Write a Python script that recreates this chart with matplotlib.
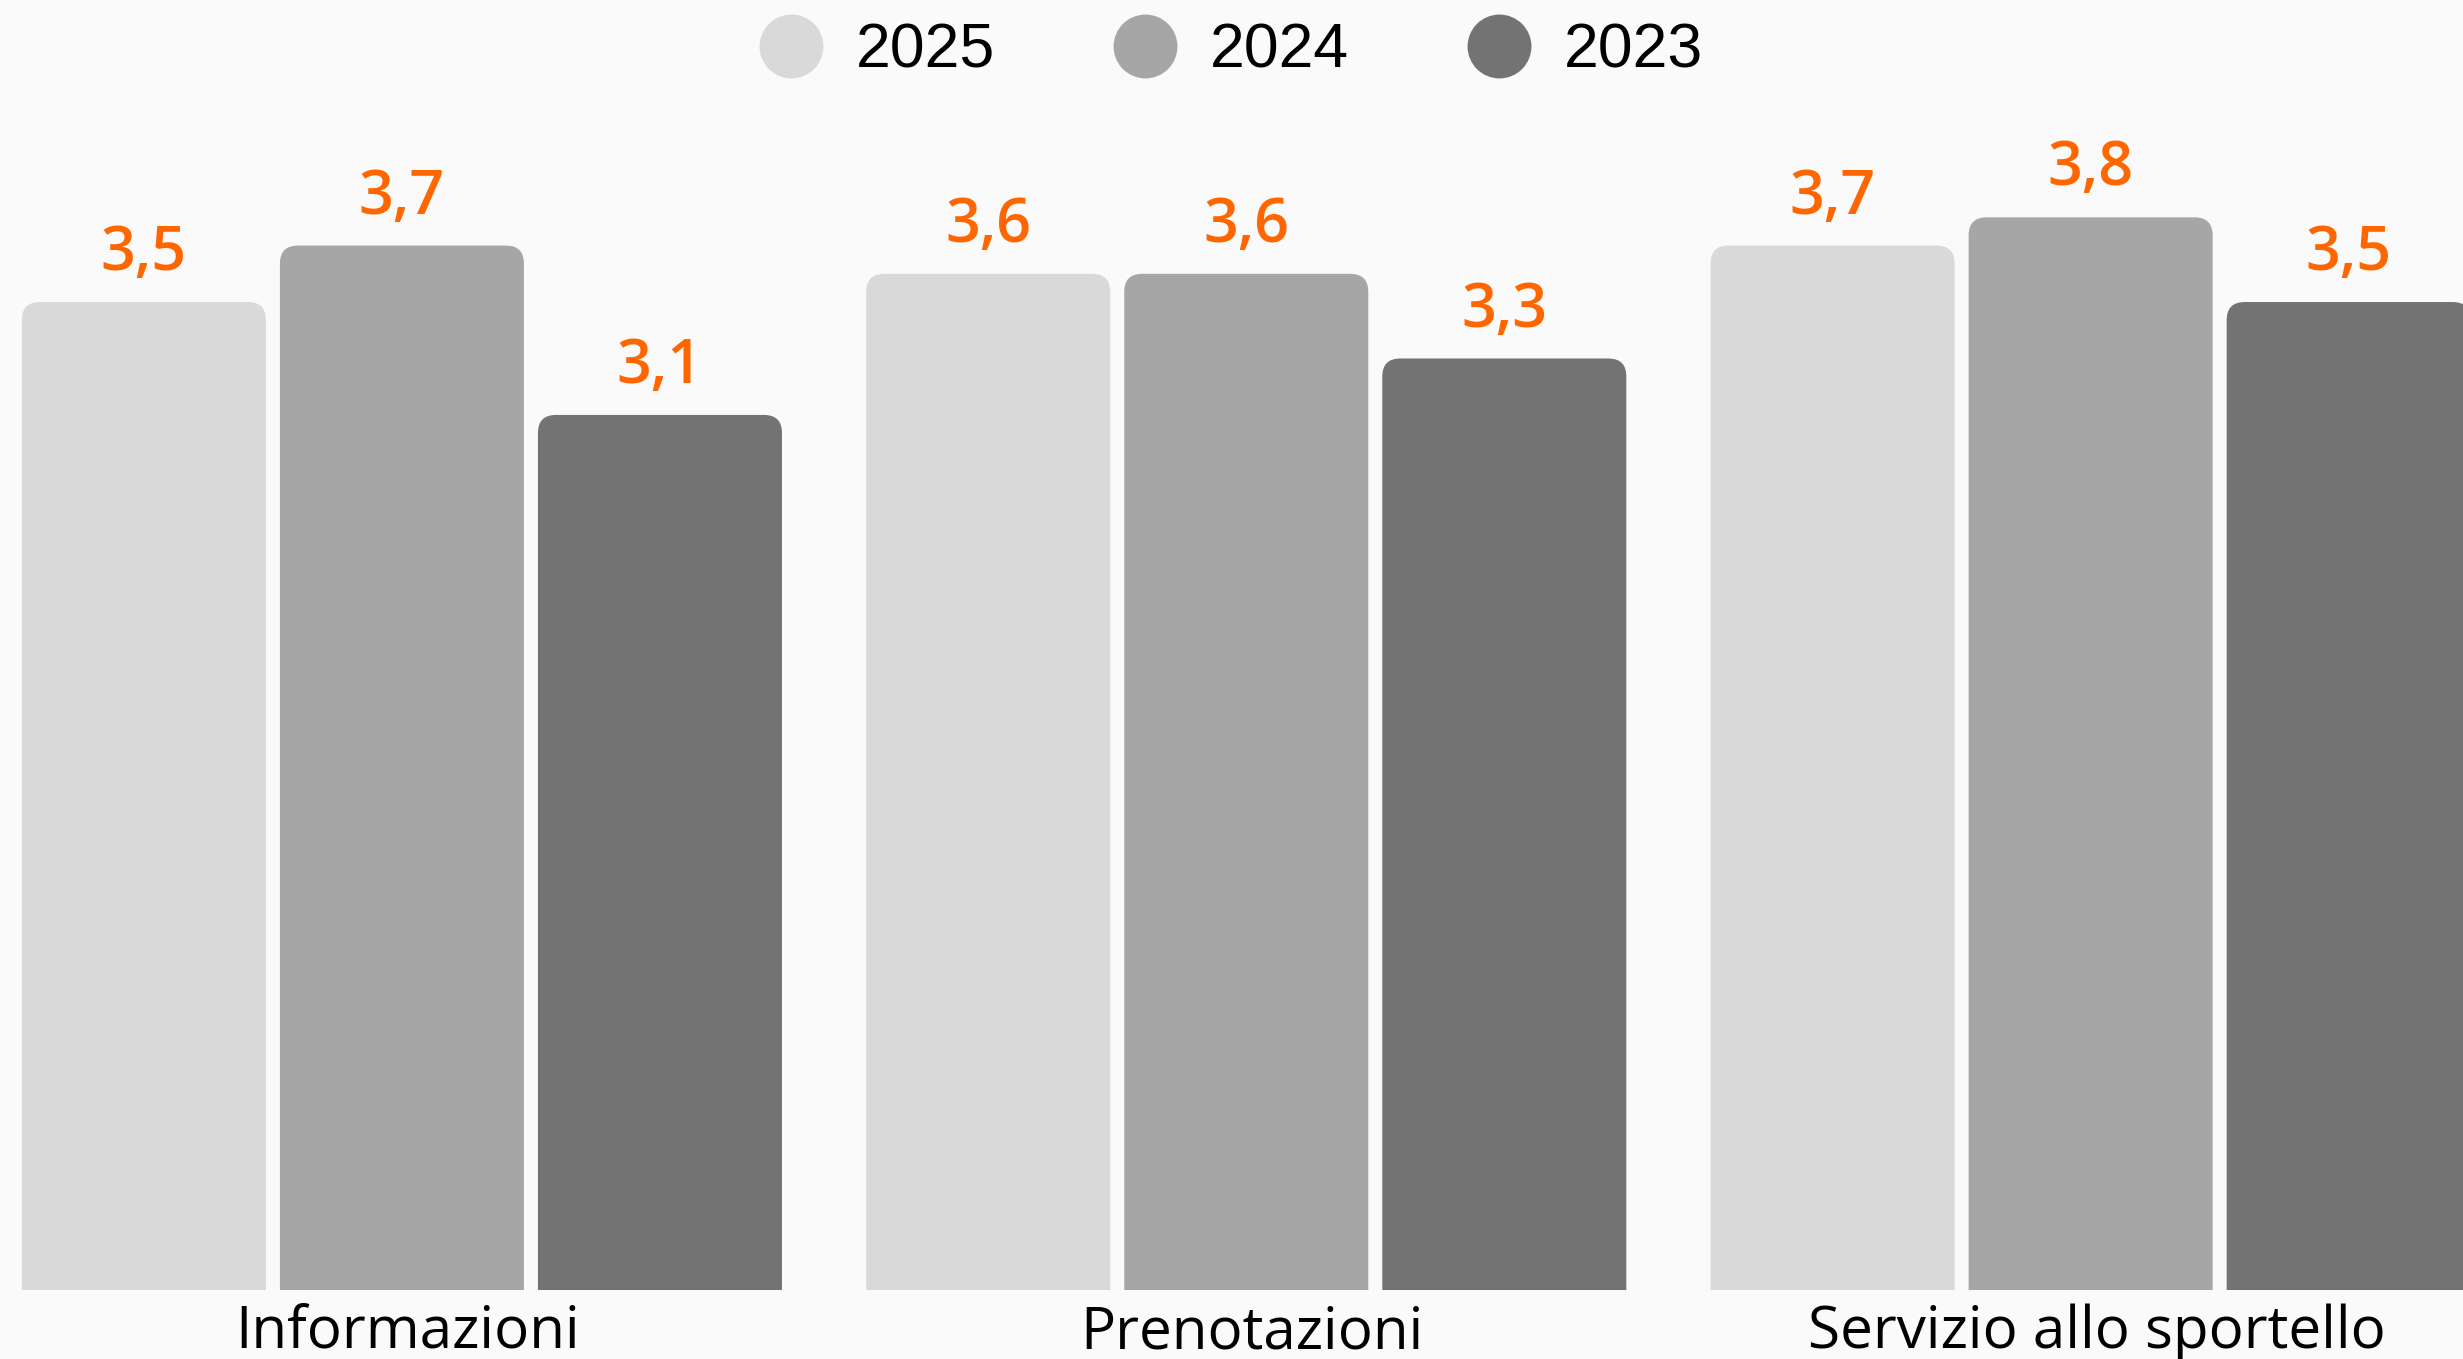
import matplotlib
matplotlib.use('Agg')
import matplotlib.pyplot as plt
from matplotlib.patches import FancyBboxPatch
from matplotlib.lines import Line2D
from matplotlib.transforms import ScaledTranslation

categories = ['Informazioni', 'Prenotazioni', 'Servizio allo sportello']
years = ['2025', '2024', '2023']
values_2025 = [3.5, 3.6, 3.7]
values_2024 = [3.7, 3.6, 3.8]
values_2023 = [3.1, 3.3, 3.5]
series = [values_2025, values_2024, values_2023]
colors = ['#d9d9d9', '#a6a6a6', '#737373']
bg = '#fafafa'

fig = plt.figure(figsize=(24.63, 13.59), dpi=100, facecolor=bg)
ax = fig.add_axes([0, 69 / 1359, 1, 1 - 69 / 1359])
ax.set_facecolor(bg)
x0, x1 = -0.476, 2.441
ymax = 4.57
ax.set_xlim(x0, x1)
ax.set_ylim(0, ymax)

width = 0.289
step = 0.3056

# pixels per data unit, so the rounded corners stay round
px_x = ax.bbox.width / (x1 - x0)
px_y = ax.bbox.height / ymax
radius = 18 / px_x

for i, vals in enumerate(series):
    for j, v in enumerate(vals):
        x = j + (i - 1) * step
        bar = FancyBboxPatch((x - width / 2, -0.3), width, v + 0.3,
                             boxstyle=f"round,pad=0,rounding_size={radius}",
                             mutation_aspect=px_x / px_y,
                             fc=colors[i], ec='none')
        ax.add_patch(bar)
        ax.annotate(f"{v:.1f}".replace('.', ','), (x, v), xytext=(0, 23),
                    textcoords='offset points', ha='center', va='baseline',
                    color='#ff6600', fontsize=44, fontweight='semibold',
                    family='Open Sans')

ax.set_xticks(range(len(categories)), categories, fontsize=42, family='Open Sans')
ax.tick_params(axis='x', length=0, pad=10)
# labels sit a little right of the group centre
shift = ScaledTranslation(6 / 100, 0, fig.dpi_scale_trans)
for lab in ax.get_xticklabels():
    lab.set_transform(lab.get_transform() + shift)
ax.set_yticks([])
for s in ax.spines.values():
    s.set_visible(False)

handles = [Line2D([], [], marker='o', ls='none', ms=46, mfc=c, mec='none') for c in colors]
fig.legend(handles, years, loc='center', bbox_to_anchor=(0.5, 1 - 51 / 1359), ncol=3,
           frameon=False, prop={'family': 'Liberation Sans', 'size': 45},
           handlelength=1.0, handletextpad=0.54, columnspacing=1.9,
           borderpad=0, borderaxespad=0)

fig.savefig('out.png', dpi=100, facecolor=bg)
